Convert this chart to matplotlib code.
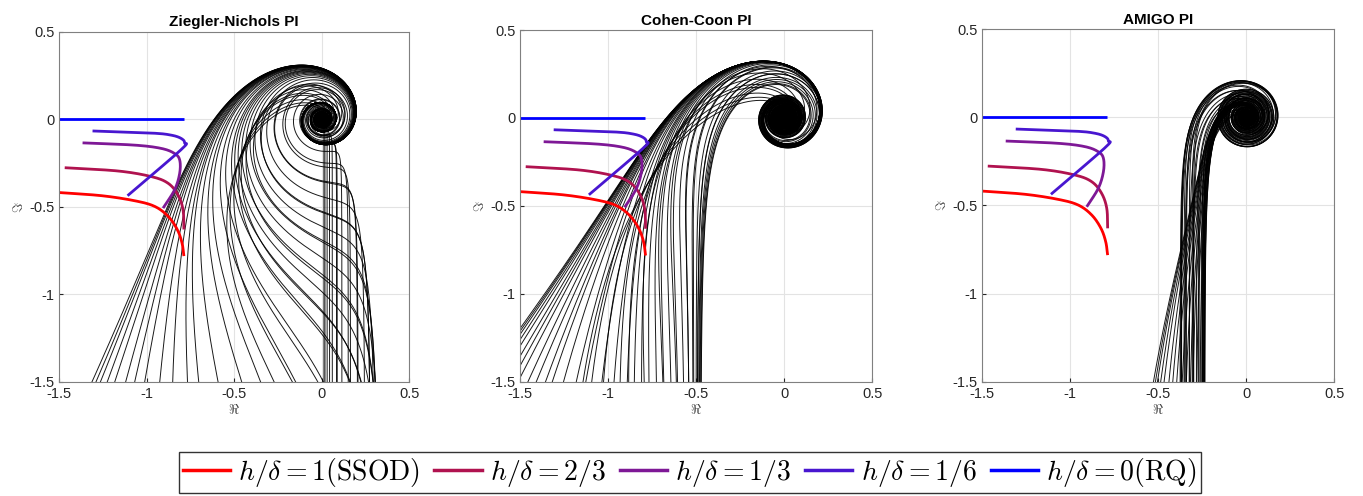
import numpy as np
import matplotlib
matplotlib.use("Agg")
import matplotlib.pyplot as plt
from matplotlib.lines import Line2D

# ---------------- data ----------------
panel_titles = ["Ziegler-Nichols PI", "Cohen-Coon PI", "AMIGO PI"]

# test processes: time constants (dead time = 1, gain = 1)
fopdt_T = [0.02, 0.05, 0.1, 0.15, 0.2, 0.3, 0.4, 0.5, 0.6, 0.7, 0.8, 0.9, 1.0, 1.1,
           1.2, 1.3, 1.5, 1.7, 2.0, 2.2, 2.5, 2.8, 3.0, 3.3, 3.6, 4.0, 4.3, 4.6,
           5.0, 5.3, 5.6, 5.8, 6.0]
sopdt_T = [0.02, 0.05, 0.1, 0.2, 0.3, 0.5, 0.7, 1.0, 1.3, 1.5, 2.0, 2.5, 3.0]

# describing-function curves (-1/N) for each h/delta
ssod_labels = [r"$h/\delta=1(\mathrm{SSOD})$", r"$h/\delta=2/3$", r"$h/\delta=1/3$",
               r"$h/\delta=1/6$", r"$h/\delta=0(\mathrm{RQ})$"]
ssod_colors = ["#ff0000", "#b0124f", "#7e1896", "#4816d0", "#0000ff"]
ssod_re = [
    [-1.5, -1.257, -1.068, -0.955, -0.878, -0.826, -0.799, -0.788],
    [-1.469, -1.162, -0.973, -0.878, -0.822, -0.793, -0.788],
    [-1.367, -1.068, -0.916, -0.841, -0.812, -0.812, -0.841, -0.907],
    [-1.310, -0.973, -0.860, -0.803, -0.784, -0.803, -1.110],
    [-1.5, -0.79],
]
ssod_im = [
    [-0.419, -0.437, -0.466, -0.498, -0.555, -0.630, -0.706, -0.782],
    [-0.277, -0.296, -0.328, -0.366, -0.432, -0.517, -0.630],
    [-0.135, -0.148, -0.167, -0.196, -0.233, -0.309, -0.403, -0.508],
    [-0.067, -0.079, -0.091, -0.110, -0.135, -0.173, -0.437],
    [0.0, 0.0],
]

x_ticks = [-1.5, -1, -0.5, 0, 0.5]
y_ticks = [-1.5, -1, -0.5, 0, 0.5]


def build_batch():
    procs = []  # (K, delay, taus)
    for T in fopdt_T:
        procs.append((1.0, 1.0, [T]))
    for T in sopdt_T:
        procs.append((1.0, 1.0, [T, T]))
    return procs


def half_rule(K, delay, taus):
    t = sorted(taus, reverse=True)
    tau = t[0] + (t[1] / 2 if len(t) > 1 else 0.0)
    th = delay + (t[1] / 2 if len(t) > 1 else 0.0) + sum(t[2:])
    return K, tau, th


def pi_params(rule, K, T, L):
    if rule == 0:      # Ziegler-Nichols
        kp = 0.9 * T / (K * L)
        ti = 3.33 * L
    elif rule == 1:    # Cohen-Coon
        kp = T / (K * L) * (0.9 + L / (12 * T))
        ti = L * (30 + 3 * L / T) / (9 + 20 * L / T)
    else:              # AMIGO
        kp = 0.15 / K + (0.35 - L * T / (L + T) ** 2) * T / (K * L)
        ti = 0.35 * L + 13 * L * T ** 2 / (T ** 2 + 12 * L * T + 7 * L ** 2)
    return kp, ti


def smooth(xs, ys, n=200):
    xs = np.asarray(xs, float)
    ys = np.asarray(ys, float)
    if len(xs) < 3:
        return xs, ys
    d = np.hypot(np.diff(xs), np.diff(ys))
    t = np.concatenate([[0], np.cumsum(d)])
    tt = np.linspace(0, t[-1], n)
    px = np.concatenate([[2 * xs[0] - xs[1]], xs, [2 * xs[-1] - xs[-2]]])
    py = np.concatenate([[2 * ys[0] - ys[1]], ys, [2 * ys[-1] - ys[-2]]])
    outx, outy = [], []
    for i in range(len(xs) - 1):
        seg = tt[(tt >= t[i]) & (tt <= t[i + 1])]
        u = (seg - t[i]) / (t[i + 1] - t[i])
        p0, p1, p2, p3 = px[i], px[i + 1], px[i + 2], px[i + 3]
        q0, q1, q2, q3 = py[i], py[i + 1], py[i + 2], py[i + 3]
        outx.append(0.5 * (2 * p1 + (-p0 + p2) * u + (2 * p0 - 5 * p1 + 4 * p2 - p3) * u ** 2
                           + (-p0 + 3 * p1 - 3 * p2 + p3) * u ** 3))
        outy.append(0.5 * (2 * q1 + (-q0 + q2) * u + (2 * q0 - 5 * q1 + 4 * q2 - q3) * u ** 2
                           + (-q0 + 3 * q1 - 3 * q2 + q3) * u ** 3))
    return np.concatenate(outx), np.concatenate(outy)


plt.rcParams["mathtext.fontset"] = "cm"
fig = plt.figure(figsize=(13.63, 4.96), dpi=100)
axes_rects = [[0.0435, 0.2304, 0.2568, 0.7056],
              [0.3817, 0.2304, 0.2583, 0.7090],
              [0.7207, 0.2304, 0.2583, 0.7110]]

w = np.logspace(-4, 1.8, 9000)
s = 1j * w
batch = build_batch()
for k, rect in enumerate(axes_rects):
    ax = fig.add_axes(rect)
    for (K, delay, taus) in batch:
        Km, Tm, Lm = half_rule(K, delay, taus)
        kp, ti = pi_params(k, Km, Tm, Lm)
        G = K * np.exp(-delay * s)
        for t in taus:
            G = G / (1 + t * s)
        Lw = kp * (1 + 1 / (ti * s)) * G
        ax.plot(Lw.real, Lw.imag, color="black", lw=0.7, alpha=0.9)
    for xs, ys, c in zip(ssod_re, ssod_im, ssod_colors):
        sx, sy = smooth(xs, ys)
        ax.plot(sx, sy, color=c, lw=2.0, solid_capstyle="butt")
    ax.set_xlim(-1.5, 0.5)
    ax.set_ylim(-1.5, 0.5)
    ax.set_xticks(x_ticks)
    ax.set_yticks(y_ticks)
    ax.set_xticklabels(["-1.5", "-1", "-0.5", "0", "0.5"])
    ax.set_yticklabels(["-1.5", "-1", "-0.5", "0", "0.5"])
    ax.grid(True, color="#e3e3e3", lw=0.8)
    ax.set_axisbelow(True)
    ax.tick_params(labelsize=10.5, colors="#262626", length=3, direction="in")
    for sp in ax.spines.values():
        sp.set_color("#808080")
        sp.set_linewidth(0.8)
    ax.set_title(panel_titles[k], fontsize=11, fontweight="bold",
                 family="Liberation Sans", pad=4)
    ax.set_xlabel(r"$\Re$", fontsize=10, labelpad=2, color="#404040")
    ax.set_ylabel(r"$\Im$", fontsize=10, labelpad=2, rotation=90, color="#404040")
    for lbl in ax.get_xticklabels() + ax.get_yticklabels():
        lbl.set_family("Liberation Sans")

handles = [Line2D([0], [0], color=c, lw=2.5) for c in ssod_colors]
leg = fig.legend(handles, ssod_labels, loc="center", bbox_to_anchor=(0.506, 0.048),
                 ncol=5, fontsize=20, frameon=True, fancybox=False, edgecolor="black",
                 handlelength=1.7, handletextpad=0.3, columnspacing=0.5,
                 borderpad=0.15)
leg.get_frame().set_linewidth(1.0)

fig.savefig("out.png", dpi=100)
